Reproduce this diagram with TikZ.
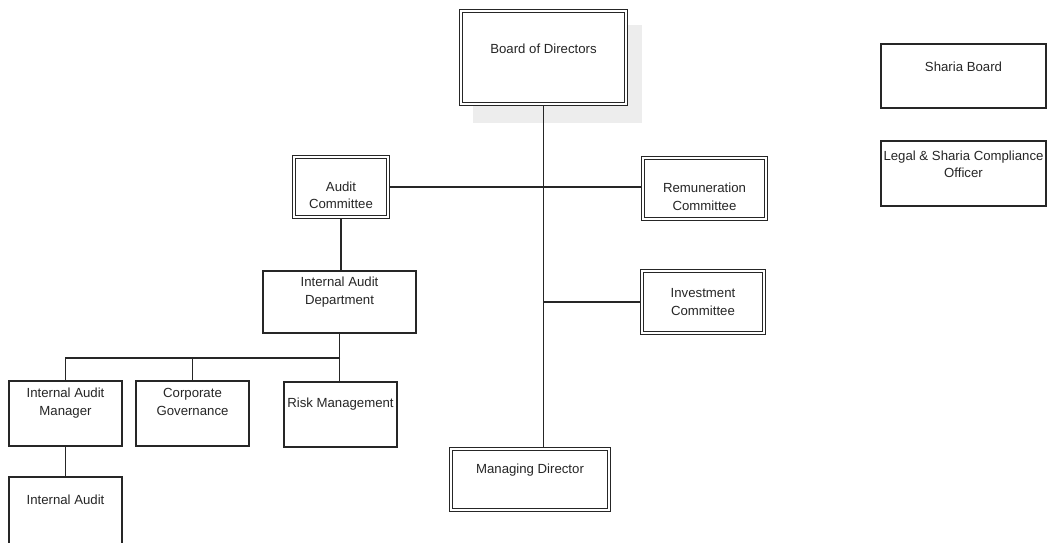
\documentclass[tikz,border=0pt]{standalone}
\usepackage{fontspec}
\setmainfont{Liberation Sans}
\begin{document}
\begin{tikzpicture}[x=1pt,y=-1pt,
  sbox/.style={draw=black!85, line width=1.2pt, fill=white, inner sep=0pt, outer sep=0pt},
  dbox/.style={draw=black!85, line width=1.1pt, double=white, double distance=1.8pt, fill=white, inner sep=0pt, outer sep=2pt},
  txt/.style={inner sep=0pt, align=center, text=black!85, font=\fontsize{13.2}{17.5}\selectfont},
  conn/.style={draw=black!85, line width=1.3pt}]
\useasboundingbox (0,0) rectangle (1050,542);
% shadow behind board
\fill[black!7] (473,25) rectangle (642,123);
% boxes
\node[dbox, minimum width=165pt, minimum height=93pt] (bod) at (543.5,57.5) {};
\node[sbox, minimum width=165pt, minimum height=64pt] (sb) at (963.5,76) {};
\node[sbox, minimum width=165pt, minimum height=65pt] (lso) at (963.5,173.5) {};
\node[dbox, minimum width=94pt, minimum height=60pt] (ac) at (341,187) {};
\node[dbox, minimum width=123pt, minimum height=61pt] (rem) at (704.5,188.5) {};
\node[sbox, minimum width=153pt, minimum height=62pt] (iad) at (339.5,302) {};
\node[dbox, minimum width=122pt, minimum height=62pt] (inv) at (703,302) {};
\node[sbox, minimum width=113pt, minimum height=65pt] (iam) at (65.5,413.5) {};
\node[sbox, minimum width=113pt, minimum height=65pt] (cg) at (192.5,413.5) {};
\node[sbox, minimum width=113pt, minimum height=65pt] (rm) at (340.5,414.5) {};
\node[dbox, minimum width=158pt, minimum height=61pt] (md) at (530,479.5) {};
\node[sbox, minimum width=113pt, minimum height=70pt] (ia) at (65.5,512) {};
% texts
\node[txt] (bod-t) at (543.5,49) {Board of Directors};
\node[txt] (sb-t) at (963.5,67) {Sharia Board};
\node[txt] (lso-t) at (963.5,164.5) {Legal \& Sharia Compliance\\Officer};
\node[txt] (ac-t) at (341,195.5) {Audit\\Committee};
\node[txt] (rem-t) at (704.5,197) {Remuneration\\Committee};
\node[txt] (iad-t) at (339.5,292) {Internal Audit\\Department};
\node[txt] (inv-t) at (703,302) {Investment\\Committee};
\node[txt] (iam-t) at (65.5,403) {Internal Audit\\Manager};
\node[txt] (cg-t) at (192.5,402) {Corporate\\Governance};
\node[txt] (rm-t) at (340.5,404) {Risk Management};
\node[txt] (md-t) at (530,470) {Managing Director};
\node[txt] (ia-t) at (65.5,500) {Internal Audit};
% connectors
\coordinate (trunkbot) at (md.north -| bod.south);
\draw[conn] (bod.south) -- (trunkbot);
\draw[conn] (ac.east) -- (ac.east -| rem.west);
\draw[conn] (inv.west) -- (inv.west -| bod.south);
\draw[conn] (ac.south) -- (ac.south |- iad.north);
\draw[conn] (iad.south) -- (iad.south |- rm.north);
\coordinate (junc) at (340,358);
\draw[conn] (junc) -| (iam.north);
\draw[conn] (junc -| cg.north) -- (cg.north);
\draw[conn] (iam.south) -- (ia.north);
\end{tikzpicture}
\end{document}
